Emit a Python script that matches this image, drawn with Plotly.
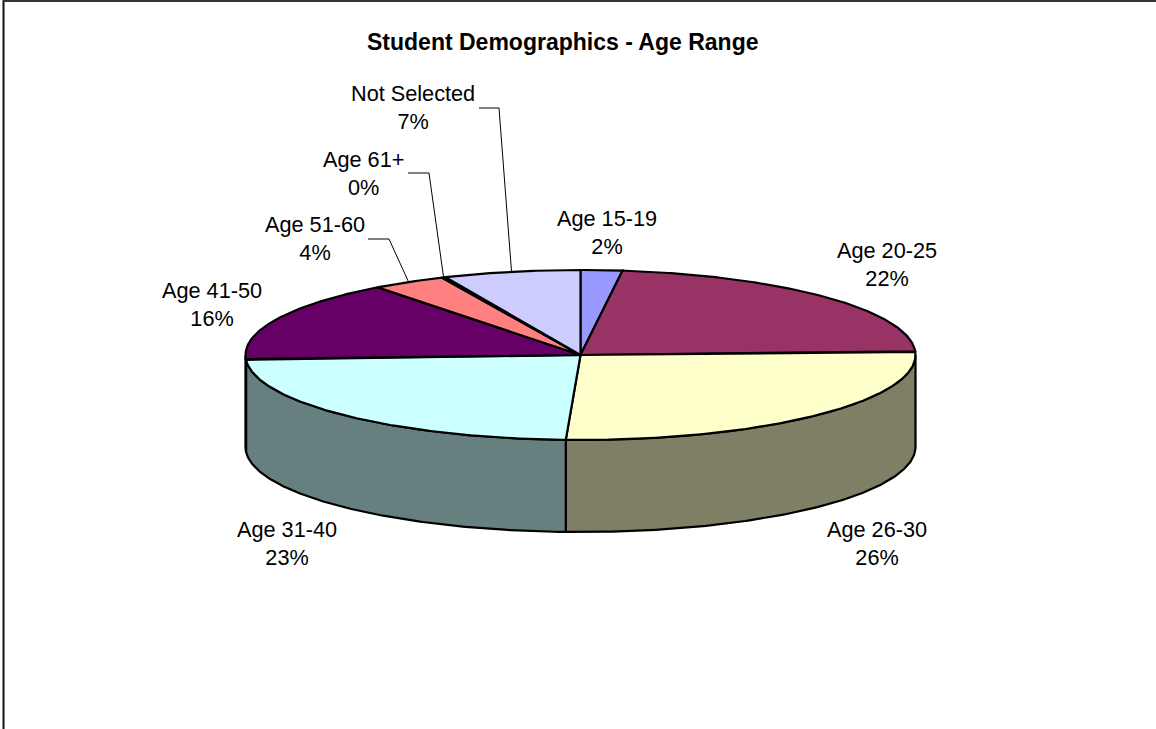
import math
import plotly.graph_objects as go

# ---- data -------------------------------------------------------------
categories = ["Age 15-19", "Age 20-25", "Age 26-30", "Age 31-40",
              "Age 41-50", "Age 51-60", "Age 61+", "Not Selected"]
shares = [2.0, 22.3, 26.4, 23.4, 15.55, 3.55, 0.2, 6.6]
top_colors = ["#9999FF", "#993366", "#FFFFCC", "#CCFFFF",
              "#660066", "#FF8080", "#0066CC", "#CCCCFF"]

TITLE = "Student Demographics - Age Range"

# ---- layout of the tilted pie (pixel space) ---------------------------
W, H = 1156, 729
CX, CY = 580.5, 355.0      # centre of the top face
RX, RY = 335.0, 85.0       # radii of the top ellipse
DEPTH = 92.0               # thickness of the disc

# label block centres and leader-line stubs
label_pos = {
    "Age 15-19": (607, 232.5),
    "Age 20-25": (887, 264),
    "Age 26-30": (877, 543),
    "Age 31-40": (287, 543),
    "Age 41-50": (212, 304.5),
    "Age 51-60": (315, 238),
    "Age 61+": (363, 173),
    "Not Selected": (413, 107.5),
}
leader_stub = {
    "Age 51-60": (368, 389, 239),
    "Age 61+": (408, 429, 173),
    "Not Selected": (479, 499, 108),
}

FONT = "Arial, Liberation Sans, sans-serif"


def ell(theta, dy=0.0):
    t = math.radians(theta)
    return CX + RX * math.sin(t), CY - RY * math.cos(t) + dy


def arc(a0, a1, dy=0.0, step=0.5):
    n = max(2, int(abs(a1 - a0) / step) + 1)
    pts = [ell(a0 + (a1 - a0) * i / (n - 1), dy) for i in range(n)]
    return [p[0] for p in pts], [p[1] for p in pts]


def darken(hexcol, f=0.5):
    h = hexcol.lstrip("#")
    r, g, b = (int(h[i:i + 2], 16) for i in (0, 2, 4))
    return "#%02X%02X%02X" % (int(r * f), int(g * f), int(b * f))


total = sum(shares)
angles = []
acc = 0.0
for v in shares:
    a0 = acc / total * 360.0
    acc += v
    a1 = acc / total * 360.0
    angles.append((a0, a1))

fig = go.Figure()

# side walls (only the front half, 90..270 degrees, is visible)
for (a0, a1), col in zip(angles, top_colors):
    s0, s1 = max(a0, 90.0), min(a1, 270.0)
    if s1 <= s0:
        continue
    xt, yt = arc(s0, s1)
    xb, yb = arc(s1, s0, DEPTH)
    xs = xt + xb + [xt[0]]
    ys = yt + yb + [yt[0]]
    fig.add_trace(go.Scatter(
        x=xs, y=ys, mode="lines", fill="toself", fillcolor=darken(col),
        line=dict(color="black", width=2.2), hoverinfo="skip", showlegend=False))

# top face slices
for (a0, a1), col in zip(angles, top_colors):
    xa, ya = arc(a0, a1)
    xs = [CX] + xa + [CX]
    ys = [CY] + ya + [CY]
    fig.add_trace(go.Scatter(
        x=xs, y=ys, mode="lines", fill="toself", fillcolor=col,
        line=dict(color="black", width=2.2), hoverinfo="skip", showlegend=False))

# data labels and leader lines
for cat, v, (a0, a1) in zip(categories, shares, angles):
    pct = int(v / total * 100 + 0.5)
    lx, ly = label_pos[cat]
    fig.add_annotation(
        x=lx, y=ly, xref="x", yref="y", text=f"{cat}<br>{pct}%",
        showarrow=False, xanchor="center", yanchor="middle", align="center",
        font=dict(family=FONT, size=21.7, color="black"))
    if cat in leader_stub:
        x0, x1, yy = leader_stub[cat]
        mx, my = ell((a0 + a1) / 2.0)
        fig.add_trace(go.Scatter(
            x=[x0, x1, mx], y=[yy, yy, my], mode="lines",
            line=dict(color="black", width=1), hoverinfo="skip", showlegend=False))

# title
fig.add_annotation(
    x=562, y=42, xref="x", yref="y", text=f"<b>{TITLE}</b>", showarrow=False,
    xanchor="center", yanchor="middle",
    font=dict(family=FONT, size=23, color="black"))

# chart area frame (left and top edges)
fig.add_shape(type="line", x0=3.5, y0=0, x1=3.5, y1=H, xref="x", yref="y",
              line=dict(color="#111111", width=2))
fig.add_shape(type="line", x0=3, y0=1, x1=W, y1=1, xref="x", yref="y",
              line=dict(color="#333333", width=2))

fig.update_layout(
    width=W, height=H, margin=dict(l=0, r=0, t=0, b=0),
    paper_bgcolor="white", plot_bgcolor="white",
    xaxis=dict(range=[0, W], visible=False, fixedrange=True),
    yaxis=dict(range=[H, 0], visible=False, fixedrange=True),
    showlegend=False,
)

fig.write_html("out.html")
